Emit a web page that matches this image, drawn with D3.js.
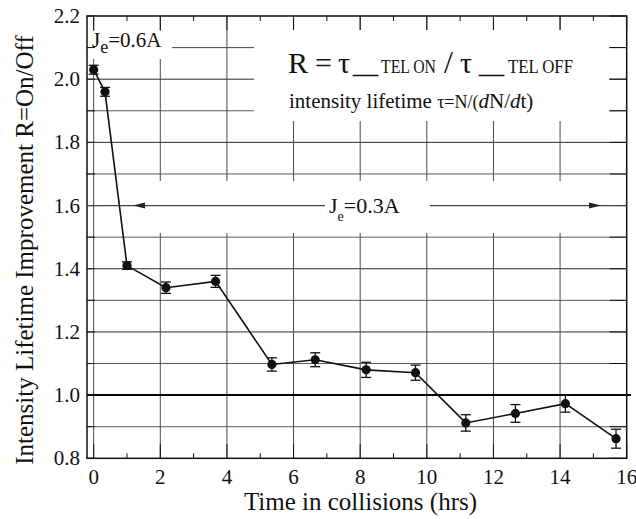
<!DOCTYPE html>
<html>
<head>
<meta charset="utf-8">
<script src="https://cdn.jsdelivr.net/npm/d3@7"></script>
<style>
  body { margin: 0; background: #fff; }
</style>
</head>
<body>
<div id="chart"></div>
<script>
// data
const hours = [0.0, 0.34, 1.0, 2.17, 3.66, 5.35, 6.65, 8.18, 9.66, 11.17, 12.66, 14.16, 15.68];
const ratio = [2.03, 1.96, 1.41, 1.34, 1.36, 1.097, 1.112, 1.08, 1.071, 0.912, 0.942, 0.973, 0.862];
const errs  = [0.014, 0.014, 0.012, 0.018, 0.019, 0.021, 0.022, 0.024, 0.024, 0.026, 0.028, 0.027, 0.03];

const xTicks = [0, 2, 4, 6, 8, 10, 12, 14, 16];
const yTicks = [0.8, 1.0, 1.2, 1.4, 1.6, 1.8, 2.0, 2.2];

const width = 636, height = 519;
const pLeft = 87, pRight = 626.7, pTop = 16, pBottom = 458.3;
const serif = "'Liberation Serif', 'Times New Roman', Times, 'DejaVu Serif', serif";

const svg = d3.select("#chart").append("svg")
  .attr("width", width)
  .attr("height", height)
  .attr("font-family", serif)
  .style("font-family", serif);

const x = d3.scaleLinear().domain([-0.2, 16]).range([pLeft, pRight]);
const y = d3.scaleLinear().domain([0.8, 2.2]).range([pBottom, pTop]);

// grid
const grid = svg.append("g");
d3.range(9, 22).forEach(k => {
  const v = k / 10;
  grid.append("line")
    .attr("x1", pLeft).attr("x2", pRight)
    .attr("y1", y(v)).attr("y2", y(v))
    .attr("stroke", k % 2 === 0 ? "#2a2a2a" : "#5a5a5a")
    .attr("stroke-width", 1);
});
d3.range(0, 16, 2).forEach(v => {
  grid.append("line")
    .attr("x1", x(v)).attr("x2", x(v))
    .attr("y1", pTop).attr("y2", pBottom)
    .attr("stroke", "#4a4a4a")
    .attr("stroke-width", 1);
});

// white boxes behind annotations
svg.append("rect").attr("x", 254).attr("y", 30).attr("width", 355).attr("height", 91).attr("fill", "#fff");
svg.append("rect").attr("x", 89).attr("y", 31).attr("width", 83).attr("height", 28).attr("fill", "#fff");
svg.append("rect").attr("x", 97).attr("y", 181).attr("width", 523).attr("height", 52).attr("fill", "#fff");

// 1.0 reference line
svg.append("line")
  .attr("x1", pLeft).attr("x2", 631)
  .attr("y1", y(1.0)).attr("y2", y(1.0))
  .attr("stroke", "#000").attr("stroke-width", 2);

// frame
svg.append("rect")
  .attr("x", pLeft).attr("y", pTop)
  .attr("width", pRight - pLeft).attr("height", pBottom - pTop)
  .attr("fill", "none").attr("stroke", "#111").attr("stroke-width", 1.5);

// ticks (inward) top and bottom
const ticks = svg.append("g").attr("stroke", "#111").attr("stroke-width", 1);
d3.range(0, 17, 1).forEach(v => {
  const len = v % 2 === 0 ? 14 : 5;
  ticks.append("line").attr("x1", x(v)).attr("x2", x(v)).attr("y1", pBottom).attr("y2", pBottom - len);
  ticks.append("line").attr("x1", x(v)).attr("x2", x(v)).attr("y1", pTop).attr("y2", pTop + len);
});
d3.range(8, 23).forEach(k => {
  const v = k / 10;
  ticks.append("line").attr("x1", pLeft).attr("x2", pLeft + 8).attr("y1", y(v)).attr("y2", y(v));
  ticks.append("line").attr("x1", pRight).attr("x2", pRight - 17).attr("y1", y(v)).attr("y2", y(v));
});

// tick labels
svg.append("g").selectAll("text").data(xTicks).join("text")
  .attr("x", d => x(d)).attr("y", 484)
  .attr("text-anchor", "middle")
  .attr("font-size", 21)
  .attr("fill", "#111")
  .text(d => d);
svg.append("g").selectAll("text").data(yTicks).join("text")
  .attr("x", 80).attr("y", d => y(d) + 7)
  .attr("text-anchor", "end")
  .attr("font-size", 21)
  .attr("fill", "#111")
  .text(d3.format(".1f"));

// axis titles
svg.append("text")
  .attr("x", (242 + 479) / 2).attr("y", 510)
  .attr("text-anchor", "middle")
  .attr("font-size", 25)
  .attr("fill", "#111")
  .text("Time in collisions (hrs)");
svg.append("text")
  .attr("transform", "translate(33,250) rotate(-90)")
  .attr("text-anchor", "middle")
  .attr("font-size", 25)
  .attr("fill", "#111")
  .text("Intensity Lifetime Improvement R=On/Off");

// J_e = 0.6A label and its line
const j6 = svg.append("text").attr("x", 92).attr("y", 47).attr("font-size", 21).attr("fill", "#111");
j6.append("tspan").text("J");
j6.append("tspan").attr("font-size", 18).attr("dy", 6).text("e");
j6.append("tspan").attr("dy", -6).text("=0.6A");
svg.append("line").attr("x1", 173).attr("x2", 254).attr("y1", y(2.1)).attr("y2", y(2.1))
  .attr("stroke", "#5a5a5a").attr("stroke-width", 1);

// J_e = 0.3A arrow
const arrowY = y(1.6);
const arr = svg.append("g").attr("stroke", "#444").attr("stroke-width", 1.2);
arr.append("line").attr("x1", pLeft).attr("x2", 325).attr("y1", arrowY).attr("y2", arrowY);
arr.append("line").attr("x1", 430).attr("x2", pRight).attr("y1", arrowY).attr("y2", arrowY);
svg.append("path").attr("d", `M133,${arrowY} L145,${arrowY - 3} L145,${arrowY + 3} Z`).attr("fill", "#222");
svg.append("path").attr("d", `M601,${arrowY} L589,${arrowY - 3} L589,${arrowY + 3} Z`).attr("fill", "#222");
const j3 = svg.append("text").attr("x", 329).attr("y", 213).attr("font-size", 22).attr("fill", "#111");
j3.append("tspan").text("J");
j3.append("tspan").attr("font-size", 14).attr("dy", 8).text("e");
j3.append("tspan").attr("dy", -8).text("=0.3A");

// formula box text
const f = svg.append("text").attr("y", 73).attr("font-size", 30).attr("fill", "#111");
f.append("tspan").attr("x", 288).text("R");
f.append("tspan").attr("x", 315).text("=");
f.append("tspan").attr("x", 338).text("τ");
f.append("tspan").attr("x", 353).attr("textLength", 25).attr("lengthAdjust", "spacingAndGlyphs").text("_");
f.append("tspan").attr("x", 381).attr("font-size", 18).attr("textLength", 55).attr("lengthAdjust", "spacingAndGlyphs").text("TEL ON");
f.append("tspan").attr("x", 444).attr("font-size", 32).text("/");
f.append("tspan").attr("x", 460).text("τ");
f.append("tspan").attr("x", 479).attr("textLength", 25).attr("lengthAdjust", "spacingAndGlyphs").text("_");
f.append("tspan").attr("x", 508).attr("font-size", 18).attr("textLength", 65).attr("lengthAdjust", "spacingAndGlyphs").text("TEL OFF");

const s = svg.append("text").attr("x", 289).attr("y", 108).attr("font-size", 21).attr("fill", "#111");
s.append("tspan").text("intensity lifetime ");
s.append("tspan").attr("font-size", 18).text("τ=N/(");
s.append("tspan").attr("font-style", "italic").text("d");
s.append("tspan").text("N/");
s.append("tspan").attr("font-style", "italic").text("d");
s.append("tspan").text("t)");

// data
const pts = hours.map((h, i) => ({ h, r: ratio[i], e: errs[i] }));
svg.append("path")
  .datum(pts)
  .attr("fill", "none").attr("stroke", "#111").attr("stroke-width", 1.6)
  .attr("d", d3.line().x(d => x(d.h)).y(d => y(d.r)));

const eb = svg.append("g").attr("stroke", "#111").attr("stroke-width", 1.3);
pts.forEach(d => {
  eb.append("line").attr("x1", x(d.h)).attr("x2", x(d.h)).attr("y1", y(d.r - d.e)).attr("y2", y(d.r + d.e));
  eb.append("line").attr("x1", x(d.h) - 5).attr("x2", x(d.h) + 5).attr("y1", y(d.r - d.e)).attr("y2", y(d.r - d.e));
  eb.append("line").attr("x1", x(d.h) - 5).attr("x2", x(d.h) + 5).attr("y1", y(d.r + d.e)).attr("y2", y(d.r + d.e));
});
svg.append("g").selectAll("circle").data(pts).join("circle")
  .attr("cx", d => x(d.h)).attr("cy", d => y(d.r))
  .attr("r", 4.6).attr("fill", "#111");
</script>
</body>
</html>
